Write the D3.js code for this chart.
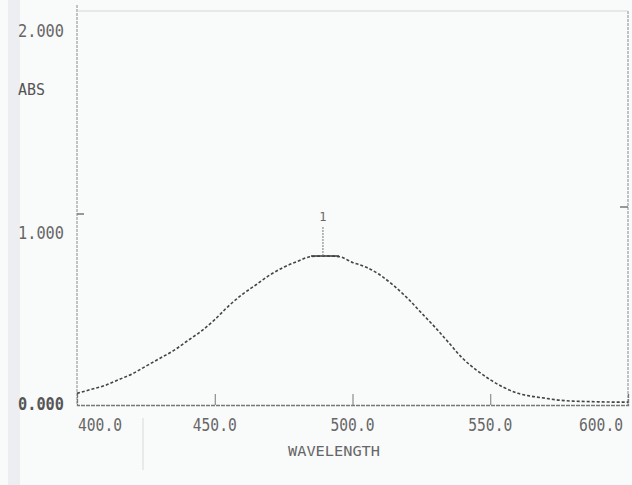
<!DOCTYPE html>
<html><head><meta charset="utf-8">
<script src="https://cdn.jsdelivr.net/npm/d3@7"></script>
<style>html,body{margin:0;padding:0;background:#f9fafa;}svg{display:block;}</style>
</head><body>
<script>
// Data (absorbance spectrum)
const wavelengths = [400,405,410,415,420,425,430,435,440,445,450,455,460,465,470,475,480,485,490,495,500,505,510,515,520,525,530,535,540,545,550,555,560,565,570,575,580,585,590,595,600];
const absorbance  = [0.06,0.08,0.10,0.13,0.16,0.20,0.24,0.28,0.33,0.38,0.44,0.51,0.57,0.62,0.67,0.71,0.74,0.765,0.768,0.765,0.735,0.71,0.67,0.615,0.55,0.475,0.40,0.32,0.24,0.18,0.13,0.09,0.06,0.045,0.035,0.025,0.02,0.018,0.016,0.015,0.015];
const xTicks = [400,450,500,550,600];
const xTickLabels = ["400.0","450.0","500.0","550.0","600.0"];
const yTicks = [0,1,2];
const yTickLabels = ["0.000","1.000","2.000"];
const peakWavelength = [490];
const peakLabel = ["1"];

const W = 632, H = 485;
const svg = d3.select("body").append("svg").attr("width", W).attr("height", H);
svg.append("rect").attr("width", W).attr("height", H).attr("fill", "#f9fafa");
// scanner strip at left
svg.append("rect").attr("x", 8).attr("y", 0).attr("width", 12).attr("height", H).attr("fill", "#eceef2");

const x = d3.scaleLinear().domain([400, 600]).range([77, 628]);
const y = d3.scaleLinear().domain([0, 2]).range([405, 17]);
const axisColor = "#8a8a8a";
const textColor = "#666";
const font = "'DejaVu Sans Mono', monospace";

// frame
svg.append("line").attr("x1", x(400)).attr("x2", x(400)).attr("y1", 5).attr("y2", y(0))
  .attr("stroke", axisColor).attr("stroke-width", 1).attr("stroke-dasharray", "3,1");
svg.append("line").attr("x1", x(600)).attr("x2", x(600)).attr("y1", 11).attr("y2", y(0))
  .attr("stroke", axisColor).attr("stroke-width", 1).attr("stroke-dasharray", "3,1");
svg.append("line").attr("x1", x(400)).attr("x2", x(600)).attr("y1", 11).attr("y2", 11)
  .attr("stroke", "#d4d6d8").attr("stroke-width", 1);

// bottom axis via d3 axis
const xAxis = d3.axisBottom(x).tickValues(xTicks.slice(1, 4)).tickSize(-11).tickFormat("");
const gx = svg.append("g").attr("transform", `translate(0,${y(0)})`).call(xAxis);
gx.select(".domain").attr("stroke", "#777").attr("stroke-width", 1.3).attr("stroke-dasharray", "4,1");
gx.selectAll(".tick line").attr("stroke", "#777");

// x labels
svg.selectAll("text.xl").data(xTicks).join("text").attr("class", "xl")
  .attr("x", (d, i) => i === 0 ? x(d) + 1 : i === xTicks.length - 1 ? x(d) - 5 : x(d))
  .attr("y", 431)
  .attr("text-anchor", (d, i) => i === 0 ? "start" : i === xTicks.length - 1 ? "end" : "middle")
  .attr("font-family", font).attr("font-size", 17).attr("fill", textColor)
  .attr("textLength", 44).attr("lengthAdjust", "spacingAndGlyphs")
  .text((d, i) => xTickLabels[i]);
svg.append("text").attr("x", 288).attr("y", 456).attr("font-family", font).attr("font-size", 14)
  .attr("fill", textColor).attr("textLength", 92).attr("lengthAdjust", "spacingAndGlyphs").text("WAVELENGTH");

// y ticks
svg.selectAll("line.yt").data([1]).join("line").attr("class", "yt")
  .attr("x1", x(400)).attr("x2", x(400) + 7).attr("y1", d => y(d) + 3).attr("y2", d => y(d) + 3)
  .attr("stroke", "#777").attr("stroke-width", 1.5);
svg.selectAll("line.yt2").data([1]).join("line").attr("class", "yt2")
  .attr("x1", x(600) - 8).attr("x2", x(600)).attr("y1", d => y(d) - 4).attr("y2", d => y(d) - 4)
  .attr("stroke", "#777").attr("stroke-width", 1.5);

// y labels
const yLabelY = [410, 239, 37];
svg.selectAll("text.yl").data(yTicks).join("text").attr("class", "yl")
  .attr("x", 18).attr("y", (d, i) => yLabelY[i])
  .attr("font-family", font).attr("font-size", 17)
  .attr("fill", (d, i) => i === 0 ? "#555" : textColor)
  .attr("font-weight", (d, i) => i === 0 ? "bold" : "normal")
  .attr("textLength", 46).attr("lengthAdjust", "spacingAndGlyphs")
  .text((d, i) => yTickLabels[i]);
svg.append("text").attr("x", 18).attr("y", 95).attr("font-family", font).attr("font-size", 16)
  .attr("fill", "#555").attr("textLength", 27).attr("lengthAdjust", "spacingAndGlyphs").text("ABS");

// faint artifact line below axis
svg.append("line").attr("x1", 143).attr("x2", 143).attr("y1", 418).attr("y2", 470)
  .attr("stroke", "#d8d8d8").attr("stroke-width", 1);

// spectrum
const pts = wavelengths.map((w, i) => [w, absorbance[i]]);
const line = d3.line().x(d => x(d[0])).y(d => y(d[1])).curve(d3.curveMonotoneX);
svg.append("path").datum(pts).attr("d", line).attr("fill", "none")
  .attr("stroke", "#444").attr("stroke-width", 1.6).attr("stroke-dasharray", "3,2");

// peak marker
const pk = peakWavelength[0];
const pkAbs = absorbance[wavelengths.indexOf(pk)];
svg.append("line").attr("x1", x(pk) - 14).attr("x2", x(pk) + 14).attr("y1", y(pkAbs)).attr("y2", y(pkAbs))
  .attr("stroke", "#444").attr("stroke-width", 1.6);
svg.append("line").attr("x1", x(pk) - 2).attr("x2", x(pk) - 2).attr("y1", y(pkAbs)).attr("y2", y(pkAbs) - 30)
  .attr("stroke", "#777").attr("stroke-width", 1).attr("stroke-dasharray", "2,1");
svg.append("text").attr("x", x(pk) - 2).attr("y", y(pkAbs) - 35).attr("text-anchor", "middle")
  .attr("font-family", font).attr("font-size", 12).attr("fill", textColor).text(peakLabel[0]);
</script>
</body></html>
